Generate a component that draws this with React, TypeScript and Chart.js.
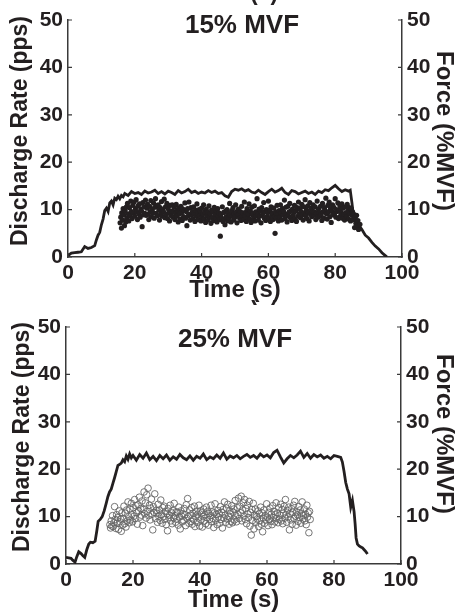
import React, { useEffect, useRef } from 'react';
import { Chart, registerables } from 'chart.js';

Chart.register(...registerables);

// ---------- data ----------
const X_TICKS = [0, 20, 40, 60, 80, 100];
const Y_TICKS = [0, 10, 20, 30, 40, 50];
const PANEL_TITLES = ['15% MVF', '25% MVF'];
const PANEL_LABELS = ['(a)', '(b)'];
const X_TITLE = 'Time (s)';
const Y_TITLE = 'Discharge Rate (pps)';
const Y2_TITLE = 'Force (%MVF)';

// top panel force trace (s, %MVF)
const TOP_FORCE_T = [0, 1, 2, 3, 4, 5, 6, 7, 8, 8.5, 9, 9.5, 10, 10.5, 11, 11.5, 12, 12.5, 13, 13.5, 14, 14.5, 15, 15.5, 16, 16.5, 17, 18, 19, 20,
  21, 22, 23, 24, 25, 26, 27, 28, 29, 30, 31, 32, 33, 34, 35, 36, 37, 38, 39, 40, 41, 42, 43, 44, 45, 46, 47, 48, 49, 50,
  51, 52, 53, 54, 55, 56, 57, 58, 59, 60, 61, 62, 63, 64, 65, 66, 67, 68, 69, 70, 71, 72, 73, 74, 75, 76, 77, 78, 79, 80,
  81, 82, 83, 84, 84.5, 85, 85.5, 86, 86.5, 87, 88, 89, 90, 91, 92, 93, 94, 95, 95.5];
const TOP_FORCE_V = [0.3, 0.8, 0.9, 1.0, 1.1, 2.2, 1.8, 2.0, 2.4, 3.6, 4.6, 5.2, 6.8, 8.0, 9.8, 10.3, 9.6, 11.4, 11.8, 11.0, 12.4, 12.1, 12.8, 12.3, 13.0, 12.7, 13.4, 13.0, 13.8, 13.4,
  13.6, 13.2, 13.9, 13.5, 13.7, 14.1, 13.4, 13.8, 13.3, 13.9, 13.6, 13.2, 14.0, 13.5, 13.8, 14.3, 13.6, 13.9, 13.4, 13.7, 13.5, 14.0, 13.6, 13.9, 13.4, 13.6, 12.9, 12.6, 13.8, 14.3,
  14.1, 14.4, 13.9, 14.2, 13.7, 13.5, 14.1, 13.6, 13.2, 13.8, 14.3, 13.7, 14.0, 14.5, 13.6, 13.2, 14.0, 13.8, 13.3, 13.6, 13.9, 13.4, 13.7, 13.2, 13.9, 13.6, 14.2, 14.0, 14.6, 15.1,
  14.4, 13.8, 14.2, 13.9, 14.1, 11.5, 8.4, 7.6, 7.0, 6.8, 5.8, 4.6, 4.0, 3.1, 2.3, 1.7, 0.9, 0.3, 0];

// top panel discharge instants (s) and rates (pps)
const TOP_SPIKE_T = [
  15.6, 15.8, 16.0, 16.1, 16.3, 16.5, 16.7, 16.9, 17.1, 17.3,
  17.5, 17.6, 17.8, 18.0, 18.2, 18.4, 18.6, 18.8, 19.0, 19.2,
  19.4, 19.6, 19.8, 20.0, 20.2, 20.4, 20.6, 20.8, 21.0, 21.2,
  21.4, 21.6, 21.8, 22.0, 22.2, 22.4, 22.6, 22.8, 23.0, 23.2,
  23.4, 23.6, 23.8, 24.0, 24.2, 24.4, 24.6, 24.8, 25.0, 25.2,
  25.4, 25.6, 25.8, 26.0, 26.2, 26.4, 26.6, 26.8, 27.0, 27.2,
  27.4, 27.6, 27.8, 28.0, 28.2, 28.4, 28.6, 28.8, 29.0, 29.2,
  29.4, 29.6, 29.8, 30.0, 30.2, 30.4, 30.6, 30.8, 31.0, 31.2,
  31.4, 31.6, 31.8, 32.0, 32.2, 32.4, 32.6, 32.8, 33.0, 33.2,
  33.4, 33.6, 33.8, 34.0, 34.2, 34.4, 34.6, 34.8, 35.0, 35.2,
  35.4, 35.6, 35.8, 36.0, 36.2, 36.4, 36.6, 36.8, 37.0, 37.2,
  37.4, 37.6, 37.8, 38.0, 38.2, 38.4, 38.6, 38.8, 39.0, 39.2,
  39.4, 39.6, 39.8, 40.0, 40.2, 40.4, 40.6, 40.8, 41.0, 41.2,
  41.4, 41.6, 41.8, 42.0, 42.2, 42.4, 42.6, 42.8, 43.0, 43.2,
  43.4, 43.6, 43.8, 44.0, 44.2, 44.4, 44.6, 44.8, 45.0, 45.2,
  45.4, 45.6, 45.8, 46.0, 46.2, 46.4, 46.6, 46.8, 47.0, 47.2,
  47.4, 47.6, 47.8, 48.0, 48.2, 48.4, 48.6, 48.8, 49.0, 49.2,
  49.4, 49.6, 49.8, 50.0, 50.2, 50.4, 50.6, 50.8, 51.0, 51.2,
  51.4, 51.6, 51.8, 52.0, 52.2, 52.4, 52.6, 52.8, 53.0, 53.2,
  53.4, 53.6, 53.8, 54.0, 54.2, 54.4, 54.6, 54.8, 55.0, 55.2,
  55.4, 55.6, 55.8, 56.0, 56.2, 56.4, 56.6, 56.8, 57.0, 57.2,
  57.4, 57.6, 57.8, 58.0, 58.2, 58.4, 58.6, 58.8, 59.0, 59.2,
  59.4, 59.6, 59.8, 60.0, 60.2, 60.4, 60.6, 60.8, 61.0, 61.2,
  61.4, 61.6, 61.8, 62.0, 62.2, 62.4, 62.6, 62.8, 63.0, 63.2,
  63.4, 63.6, 63.8, 64.0, 64.2, 64.4, 64.6, 64.8, 65.0, 65.2,
  65.4, 65.6, 65.8, 66.0, 66.2, 66.4, 66.6, 66.8, 67.0, 67.2,
  67.4, 67.6, 67.8, 68.0, 68.2, 68.4, 68.6, 68.8, 69.0, 69.2,
  69.4, 69.6, 69.8, 70.0, 70.2, 70.4, 70.6, 70.8, 71.0, 71.2,
  71.4, 71.6, 71.8, 72.0, 72.2, 72.4, 72.6, 72.8, 73.0, 73.2,
  73.4, 73.6, 73.8, 74.0, 74.2, 74.4, 74.6, 74.8, 75.0, 75.2,
  75.4, 75.6, 75.8, 76.0, 76.2, 76.4, 76.6, 76.8, 77.0, 77.2,
  77.4, 77.6, 77.8, 78.0, 78.2, 78.4, 78.6, 78.8, 79.0, 79.2,
  79.4, 79.6, 79.8, 80.0, 80.2, 80.4, 80.6, 80.8, 81.0, 81.2,
  81.4, 81.6, 81.8, 82.0, 82.2, 82.4, 82.6, 82.8, 83.0, 83.2,
  83.4, 83.6, 83.8, 84.0, 84.2, 84.4, 84.6, 84.8, 85.0, 85.2,
  85.4, 85.6, 85.8, 86.0, 86.2, 86.4, 86.6, 86.8, 87.0, 87.4];
const TOP_SPIKE_R = [
  7.2, 8.4, 6.1, 9.3, 7.8, 10.2, 8.9, 6.6, 9.8, 7.4,
  10.6, 8.2, 11.3, 9.1, 7.6, 10.4, 8.7, 11.8, 9.6, 8.1,
  10.9, 9.3, 11.6, 8.6, 10.2, 12.1, 9.5, 7.9, 10.8, 9.1,
  11.2, 8.4, 10.1, 9.7, 6.4, 11.5, 8.9, 10.6, 9.2, 12.0,
  8.8, 10.3, 11.1, 9.0, 7.9, 10.7, 9.6, 11.9, 8.5, 10.1,
  9.4, 11.4, 8.2, 10.5, 12.3, 9.2, 10.8, 8.7, 11.0, 9.9,
  7.8, 10.4, 9.1, 11.7, 8.6, 10.0, 9.5, 12.2, 8.3, 10.6,
  9.0, 11.3, 8.1, 10.2, 9.4, 7.6, 10.9, 8.8, 9.7, 11.0,
  8.4, 9.6, 10.5, 7.9, 9.2, 11.1, 8.6, 9.9, 7.4, 10.3,
  9.1, 8.0, 10.7, 9.4, 7.7, 10.1, 8.5, 9.8, 11.4, 8.2,
  9.6, 6.6, 10.2, 8.7, 11.6, 9.0, 7.8, 10.4, 8.9, 9.5,
  8.1, 10.6, 9.2, 7.5, 9.9, 8.6, 11.2, 9.3, 7.9, 10.0,
  8.8, 9.7, 7.6, 10.3, 8.4, 9.1, 11.0, 8.0, 9.5, 7.3,
  10.1, 8.7, 9.4, 7.8, 10.8, 8.5, 9.2, 7.1, 9.9, 8.3,
  9.6, 7.7, 10.5, 8.9, 8.1, 9.8, 7.4, 10.2, 8.6, 9.3,
  7.9, 4.4, 9.0, 8.2, 10.6, 7.5, 9.4, 8.0, 6.8, 9.7,
  8.5, 10.0, 7.6, 9.2, 8.3, 11.3, 8.9, 7.4, 9.8, 8.6,
  10.4, 7.8, 9.1, 8.4, 11.0, 9.5, 7.2, 8.8, 10.1, 9.0,
  8.2, 9.6, 7.7, 10.7, 8.6, 9.3, 7.9, 11.6, 8.8, 9.4,
  7.5, 10.2, 8.4, 9.1, 11.2, 8.0, 9.7, 7.3, 10.5, 8.9,
  9.2, 8.1, 10.8, 7.6, 9.5, 8.7, 12.3, 9.0, 7.8, 10.1,
  8.6, 9.8, 7.2, 10.4, 8.9, 9.3, 11.5, 8.2, 9.6, 7.7,
  10.0, 8.5, 9.4, 11.8, 8.1, 9.9, 7.5, 10.6, 8.8, 9.2,
  7.9, 10.3, 8.6, 5.0, 9.5, 8.2, 10.9, 9.1, 7.6, 9.8,
  8.4, 11.0, 9.3, 7.8, 10.2, 8.9, 9.6, 12.0, 8.1, 10.5,
  9.0, 7.4, 10.7, 8.7, 9.5, 11.3, 8.3, 9.8, 7.7, 10.1,
  8.8, 9.4, 10.9, 8.0, 9.7, 7.5, 10.4, 8.6, 11.6, 9.1,
  10.2, 8.3, 9.6, 11.1, 8.9, 7.8, 10.6, 9.3, 12.1, 8.7,
  9.9, 8.1, 10.8, 9.4, 7.6, 11.5, 9.0, 10.3, 8.5, 9.7,
  11.0, 8.8, 9.5, 10.6, 7.9, 9.2, 11.8, 8.4, 10.1, 9.3,
  8.6, 10.7, 9.0, 7.7, 11.3, 9.6, 8.2, 10.4, 9.8, 12.4,
  9.1, 8.0, 10.9, 9.5, 11.6, 8.5, 10.2, 7.3, 9.7, 11.0,
  8.9, 10.5, 9.2, 12.3, 8.4, 10.0, 9.6, 11.4, 8.1, 9.9,
  10.8, 8.7, 9.4, 11.2, 8.2, 10.3, 9.0, 7.8, 10.6, 9.3,
  8.5, 11.1, 9.7, 8.0, 10.4, 9.1, 7.6, 10.2, 8.8, 9.5,
  7.9, 9.0, 6.2, 8.4, 7.1, 8.8, 6.6, 7.7, 5.8, 6.9];

// bottom panel force trace
const BOT_FORCE_T = [0, 0.8, 1.5, 2, 2.7, 3.2, 3.8, 4.5, 5, 5.6, 6.2, 6.8, 7.3, 8, 8.7, 9.2, 9.6, 10.2, 10.8, 11.4, 12, 12.5, 13, 13.5, 14, 14.5, 15, 15.5, 16, 16.5,
  17, 17.5, 18, 18.5, 19, 19.5, 20, 21, 22, 23, 24, 25, 26, 27, 28, 29, 30, 31, 32, 33, 34, 35, 36, 37, 38, 39, 40, 41, 42, 43,
  44, 45, 46, 47, 48, 49, 50, 51, 52, 53, 54, 55, 56, 57, 58, 59, 60, 61, 62, 63, 64, 65, 66, 67, 68, 69, 70, 71, 72, 73,
  74, 75, 76, 77, 78, 79, 80, 81, 82, 82.5, 83, 83.5, 84, 84.5, 85, 85.5, 86, 86.3, 86.6, 87, 87.5, 88, 88.5, 89, 89.5, 90];
const BOT_FORCE_V = [1.4, 1.3, 1.2, 0.8, 0.4, 1.5, 2.6, 2.2, 1.8, 1.4, 3.0, 4.2, 4.6, 4.5, 4.8, 7.0, 9.0, 9.4, 10.0, 11.2, 12.8, 14.2, 15.2, 15.8, 17.0, 18.2, 19.5, 20.8, 21.0, 21.3,
  22.0, 21.6, 22.8, 22.1, 23.2, 22.4, 22.9, 21.9, 23.1, 22.3, 23.4, 22.0, 22.7, 21.8, 22.9, 22.2, 23.0, 21.9, 22.6, 22.1, 23.1, 22.4, 22.0, 22.8, 21.9, 22.7, 22.3, 23.2, 22.0, 22.6,
  22.2, 23.0, 22.3, 23.4, 22.1, 22.8, 22.4, 22.9, 22.2, 22.7, 23.1, 22.5, 22.9, 22.3, 23.2, 22.6, 23.0, 22.4, 23.5, 24.0, 22.6, 21.3, 22.2, 22.9, 22.4, 23.0, 23.8, 22.5, 23.3, 22.3,
  23.1, 22.6, 23.0, 22.3, 22.7, 22.2, 22.9, 22.7, 22.5, 21.5, 19.5, 17.2, 15.8, 14.8, 12.0, 13.4, 11.0, 8.5, 5.5, 4.2, 3.8, 3.6, 3.4, 3.0, 2.6, 2.1];

// bottom panel discharge instants and rates
const BOT_SPIKE_T = [
  13.1, 13.3, 13.5, 13.7, 13.9, 14.1, 14.3, 14.5, 14.7, 14.9,
  15.1, 15.3, 15.5, 15.7, 15.9, 16.1, 16.3, 16.5, 16.7, 16.9,
  17.1, 17.3, 17.5, 17.7, 17.9, 18.1, 18.3, 18.5, 18.7, 18.9,
  19.1, 19.3, 19.5, 19.7, 19.9, 20.1, 20.3, 20.5, 20.7, 20.9,
  21.1, 21.3, 21.5, 21.7, 21.9, 22.1, 22.3, 22.5, 22.7, 22.9,
  23.1, 23.3, 23.5, 23.7, 23.9, 24.1, 24.3, 24.5, 24.7, 24.9,
  25.1, 25.3, 25.5, 25.7, 25.9, 26.1, 26.3, 26.5, 26.7, 26.9,
  27.1, 27.3, 27.5, 27.7, 27.9, 28.1, 28.3, 28.5, 28.7, 28.9,
  29.1, 29.3, 29.5, 29.7, 29.9, 30.1, 30.3, 30.5, 30.7, 30.9,
  31.1, 31.3, 31.5, 31.7, 31.9, 32.1, 32.3, 32.5, 32.7, 32.9,
  33.1, 33.3, 33.5, 33.7, 33.9, 34.1, 34.3, 34.5, 34.7, 34.9,
  35.1, 35.3, 35.5, 35.7, 35.9, 36.1, 36.3, 36.5, 36.7, 36.9,
  37.1, 37.3, 37.5, 37.7, 37.9, 38.1, 38.3, 38.5, 38.7, 38.9,
  39.1, 39.3, 39.5, 39.7, 39.9, 40.1, 40.3, 40.5, 40.7, 40.9,
  41.1, 41.3, 41.5, 41.7, 41.9, 42.1, 42.3, 42.5, 42.7, 42.9,
  43.1, 43.3, 43.5, 43.7, 43.9, 44.1, 44.3, 44.5, 44.7, 44.9,
  45.1, 45.3, 45.5, 45.7, 45.9, 46.1, 46.3, 46.5, 46.7, 46.9,
  47.1, 47.3, 47.5, 47.7, 47.9, 48.1, 48.3, 48.5, 48.7, 48.9,
  49.1, 49.3, 49.5, 49.7, 49.9, 50.1, 50.3, 50.5, 50.7, 50.9,
  51.1, 51.3, 51.5, 51.7, 51.9, 52.1, 52.3, 52.5, 52.7, 52.9,
  53.1, 53.3, 53.5, 53.7, 53.9, 54.1, 54.3, 54.5, 54.7, 54.9,
  55.1, 55.3, 55.5, 55.7, 55.9, 56.1, 56.3, 56.5, 56.7, 56.9,
  57.1, 57.3, 57.5, 57.7, 57.9, 58.1, 58.3, 58.5, 58.7, 58.9,
  59.1, 59.3, 59.5, 59.7, 59.9, 60.1, 60.3, 60.5, 60.7, 60.9,
  61.1, 61.3, 61.5, 61.7, 61.9, 62.1, 62.3, 62.5, 62.7, 62.9,
  63.1, 63.3, 63.5, 63.7, 63.9, 64.1, 64.3, 64.5, 64.7, 64.9,
  65.1, 65.3, 65.5, 65.7, 65.9, 66.1, 66.3, 66.5, 66.7, 66.9,
  67.1, 67.3, 67.5, 67.7, 67.9, 68.1, 68.3, 68.5, 68.7, 68.9,
  69.1, 69.3, 69.5, 69.7, 69.9, 70.1, 70.3, 70.5, 70.7, 70.9,
  71.1, 71.3, 71.5, 71.7, 71.9, 72.1, 72.3, 72.5, 72.7, 72.9];
const BOT_SPIKE_R = [
  8.3, 7.6, 9.1, 8.0, 10.2, 7.9, 8.7, 12.1, 9.4, 7.5,
  10.4, 8.6, 9.8, 7.3, 11.2, 8.9, 9.5, 6.9, 10.8, 8.2,
  9.6, 12.2, 8.5, 10.7, 7.8, 11.4, 9.1, 13.1, 10.0, 8.7,
  11.6, 9.3, 12.8, 10.4, 8.9, 11.9, 10.1, 13.6, 9.6, 12.3,
  10.8, 8.4, 12.5, 11.2, 14.1, 9.9, 11.7, 10.3, 13.3, 8.1,
  11.5, 15.2, 10.6, 12.9, 9.7, 14.6, 11.1, 16.0, 10.2, 12.4,
  9.3, 11.8, 13.7, 10.5, 7.2, 12.1, 10.9, 14.8, 9.6, 11.3,
  10.7, 8.8, 12.6, 10.1, 11.4, 9.2, 13.5, 10.4, 8.6, 11.9,
  10.0, 12.2, 9.4, 11.1, 8.3, 10.6, 7.0, 11.7, 9.8, 10.3,
  12.4, 9.1, 10.8, 8.5, 11.3, 9.7, 12.8, 10.2, 8.8, 11.0,
  9.5, 10.9, 8.2, 12.0, 9.9, 7.4, 11.2, 10.1, 8.9, 10.6,
  9.2, 11.7, 10.4, 8.1, 12.5, 9.6, 13.8, 10.0, 8.6, 11.4,
  10.3, 9.0, 11.9, 8.4, 10.7, 9.4, 12.2, 7.9, 10.1, 11.1,
  8.8, 10.5, 9.7, 12.4, 8.0, 11.2, 9.3, 10.8, 7.8, 10.0,
  11.6, 9.1, 10.4, 8.5, 12.0, 9.8, 11.1, 8.2, 10.6, 9.4,
  10.2, 12.4, 8.9, 11.0, 9.6, 7.7, 10.8, 12.7, 9.2, 10.5,
  8.3, 11.3, 9.9, 10.7, 8.6, 12.1, 9.4, 10.9, 7.6, 11.5,
  9.7, 13.1, 10.3, 8.8, 11.8, 9.5, 12.6, 10.1, 8.4, 11.2,
  10.6, 9.0, 12.3, 8.7, 10.9, 11.6, 9.3, 13.4, 10.2, 8.9,
  11.9, 10.4, 13.9, 9.6, 12.2, 10.8, 14.3, 9.1, 11.4, 12.9,
  10.1, 13.6, 9.4, 11.7, 8.5, 12.4, 10.6, 9.8, 13.2, 8.0,
  10.9, 6.1, 11.5, 9.2, 12.8, 7.4, 10.3, 11.6, 8.8, 10.0,
  9.5, 11.2, 7.9, 10.6, 9.1, 12.0, 8.4, 10.8, 6.8, 9.7,
  11.4, 8.6, 10.2, 9.3, 12.7, 9.9, 8.1, 10.9, 9.4, 11.8,
  9.0, 10.5, 8.3, 12.3, 9.8, 11.1, 8.9, 10.4, 12.9, 9.6,
  10.8, 8.7, 11.9, 9.4, 10.3, 12.6, 9.1, 11.5, 8.5, 10.7,
  12.2, 9.7, 13.6, 10.4, 8.8, 11.3, 9.9, 12.0, 7.2, 10.6,
  9.3, 11.7, 8.4, 10.9, 12.4, 9.6, 13.2, 10.1, 8.2, 11.0,
  10.4, 9.0, 12.1, 9.8, 11.4, 8.6, 10.7, 13.1, 9.5, 10.2,
  11.6, 9.1, 10.5, 8.3, 12.4, 9.9, 10.8, 6.6, 11.1, 9.4];

// ---------- styling ----------
const FONT = '"Liberation Sans", Arial, Helvetica, sans-serif';
const TEXT = '#231f20';
const AXIS = '#3a3a3a';

type PanelCfg = {
  top: number; height: number; areaTop: number; leftW: number; rightW: number; xH: number;
  title: string; titleX: number; titleY: number; label: string; labelX: number; labelY: number;
  lx: number; lcy: number; rx: number; rcy: number;
  forceT: number[]; forceV: number[]; spikeT: number[]; spikeR: number[]; open: boolean;
};

const PANELS: PanelCfg[] = [
  { top: 0, height: 308, areaTop: 20, leftW: 68, rightW: 55, xH: 51,
    title: PANEL_TITLES[0], titleX: 242, titleY: 33, label: PANEL_LABELS[0], labelX: 264, labelY: 0,
    lx: 27, lcy: 131, rx: 437, rcy: 131,
    forceT: TOP_FORCE_T, forceV: TOP_FORCE_V, spikeT: TOP_SPIKE_T, spikeR: TOP_SPIKE_R, open: false },
  { top: 300, height: 315, areaTop: 27, leftW: 66, rightW: 56, xH: 51,
    title: PANEL_TITLES[1], titleX: 235, titleY: 46.5, label: PANEL_LABELS[1], labelX: 264, labelY: 0,
    lx: 29, lcy: 137, rx: 437, rcy: 134,
    forceT: BOT_FORCE_T, forceV: BOT_FORCE_V, spikeT: BOT_SPIKE_T, spikeR: BOT_SPIKE_R, open: true },
];

function makeDecor(p: PanelCfg) {
  return {
    id: 'decor',
    afterDraw(chart: any) {
      const ctx = chart.ctx;
      const { left, right, bottom } = chart.chartArea;
      const xs = chart.scales.x, ys = chart.scales.y, ys2 = chart.scales.y2;
      ctx.save();
      ctx.strokeStyle = AXIS;
      ctx.lineWidth = 1.2;
      ctx.beginPath();
      X_TICKS.forEach((v) => {
        const px = xs.getPixelForValue(v);
        ctx.moveTo(px, bottom);
        ctx.lineTo(px, bottom - 4);
      });
      Y_TICKS.forEach((v) => {
        const py = ys.getPixelForValue(v);
        ctx.moveTo(left, py);
        ctx.lineTo(left + 4, py);
        const py2 = ys2.getPixelForValue(v);
        ctx.moveTo(right, py2);
        ctx.lineTo(right - 4, py2);
      });
      ctx.stroke();

      ctx.fillStyle = TEXT;
      ctx.textAlign = 'center';
      ctx.textBaseline = 'alphabetic';
      ctx.font = `bold 26px ${FONT}`;
      ctx.fillText(p.title, p.titleX, p.titleY);
      ctx.font = `bold 23px ${FONT}`;
      ctx.fillText(p.label, p.labelX, p.labelY);

      ctx.save();
      ctx.translate(p.lx, p.lcy);
      ctx.rotate(-Math.PI / 2);
      ctx.font = `bold 23px ${FONT}`;
      ctx.fillText(Y_TITLE, 0, 0);
      ctx.restore();

      ctx.save();
      ctx.translate(p.rx, p.rcy);
      ctx.rotate(Math.PI / 2);
      ctx.font = `bold 24px ${FONT}`;
      ctx.fillText(Y2_TITLE, 0, 0);
      ctx.restore();
      ctx.restore();
    },
  };
}

function Panel({ p }: { p: PanelCfg }) {
  const ref = useRef<HTMLCanvasElement | null>(null);
  useEffect(() => {
    if (!ref.current) return;
    const tickFont = { family: FONT, size: 21, weight: 'bold' as const };
    const yScale = (pos: 'left' | 'right', w: number) => ({
      type: 'linear' as const,
      position: pos,
      min: 0,
      max: 50,
      afterBuildTicks: (s: any) => { s.ticks = Y_TICKS.map((v) => ({ value: v })); },
      afterFit: (s: any) => { s.width = w; },
      ticks: { font: tickFont, color: TEXT, padding: 5 },
      grid: { display: false, drawTicks: false },
      border: { display: true, color: AXIS, width: 1.5 },
    });
    const chart = new Chart(ref.current, {
      type: 'scatter',
      data: {
        datasets: [
          {
            label: 'rate',
            data: p.spikeT.map((t, i) => ({ x: t, y: p.spikeR[i] })),
            yAxisID: 'y',
            pointRadius: p.open ? 3.3 : 2.6,
            pointHoverRadius: 0,
            pointBackgroundColor: p.open ? 'rgba(255,255,255,0)' : TEXT,
            pointBorderColor: p.open ? '#666666' : TEXT,
            pointBorderWidth: p.open ? 0.9 : 0,
            showLine: false,
          },
          {
            label: 'force',
            data: p.forceT.map((t, i) => ({ x: t, y: p.forceV[i] })),
            yAxisID: 'y2',
            showLine: true,
            borderColor: TEXT,
            borderWidth: 2.8,
            pointRadius: 0,
            tension: 0,
          },
        ],
      },
      options: {
        animation: false,
        responsive: false,
        maintainAspectRatio: false,
        events: [],
        layout: { padding: { top: p.areaTop, left: 0, right: 0, bottom: 0 } },
        plugins: { legend: { display: false }, tooltip: { enabled: false } },
        scales: {
          x: {
            type: 'linear',
            min: 0,
            max: 100,
            afterBuildTicks: (s: any) => { s.ticks = X_TICKS.map((v) => ({ value: v })); },
            afterFit: (s: any) => { s.height = p.xH; },
            ticks: { font: tickFont, color: TEXT, padding: 4, maxRotation: 0, autoSkip: false },
            grid: { display: false, drawTicks: false },
            border: { display: true, color: AXIS, width: 1.5 },
            title: {
              display: true,
              text: X_TITLE,
              color: TEXT,
              font: { family: FONT, size: 24, weight: 'bold' },
              padding: { top: 0, bottom: p.open ? 0 : 3 },
            },
          },
          y: yScale('left', p.leftW),
          y2: yScale('right', p.rightW),
        },
      },
      plugins: [makeDecor(p)],
    } as any);
    return () => chart.destroy();
  }, [p]);
  return (
    <canvas
      ref={ref}
      width={457}
      height={p.height}
      style={{ position: 'absolute', left: 0, top: p.top, width: 457, height: p.height }}
    />
  );
}

export default function App() {
  return (
    <div style={{ position: 'absolute', left: 0, top: 0, width: 457, height: 615, background: '#fff', overflow: 'hidden' }}>
      {PANELS.map((p, i) => (
        <Panel key={i} p={p} />
      ))}
    </div>
  );
}
